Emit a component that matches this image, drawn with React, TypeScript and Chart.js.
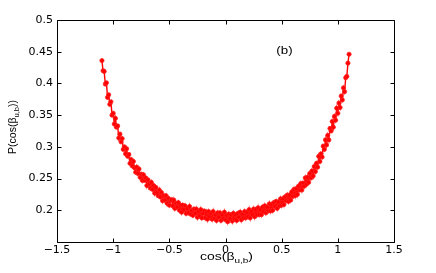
import React, { useEffect, useRef } from "react";
import { Chart, registerables } from "chart.js";

Chart.register(...registerables);

// cos(beta_u,b) sample positions
const xValues = [
  -1.1, -1.09, -1.08, -1.07, -1.06, -1.05, -1.04, -1.03, -1.02, -1.01,
  -1.0, -0.99, -0.98, -0.97, -0.96, -0.95, -0.94, -0.93, -0.92, -0.91,
  -0.9, -0.89, -0.88, -0.87, -0.86, -0.85, -0.84, -0.83, -0.82, -0.81,
  -0.8, -0.79, -0.78, -0.77, -0.76, -0.75, -0.74, -0.73, -0.72, -0.71,
  -0.7, -0.69, -0.68, -0.67, -0.66, -0.65, -0.64, -0.63, -0.62, -0.61,
  -0.6, -0.59, -0.58, -0.57, -0.56, -0.55, -0.54, -0.53, -0.52, -0.51,
  -0.5, -0.49, -0.48, -0.47, -0.46, -0.45, -0.44, -0.43, -0.42, -0.41,
  -0.4, -0.39, -0.38, -0.37, -0.36, -0.35, -0.34, -0.33, -0.32, -0.31,
  -0.3, -0.29, -0.28, -0.27, -0.26, -0.25, -0.24, -0.23, -0.22, -0.21,
  -0.2, -0.19, -0.18, -0.17, -0.16, -0.15, -0.14, -0.13, -0.12, -0.11,
  -0.1, -0.09, -0.08, -0.07, -0.06, -0.05, -0.04, -0.03, -0.02, -0.01,
  0.0, 0.01, 0.02, 0.03, 0.04, 0.05, 0.06, 0.07, 0.08, 0.09,
  0.1, 0.11, 0.12, 0.13, 0.14, 0.15, 0.16, 0.17, 0.18, 0.19,
  0.2, 0.21, 0.22, 0.23, 0.24, 0.25, 0.26, 0.27, 0.28, 0.29,
  0.3, 0.31, 0.32, 0.33, 0.34, 0.35, 0.36, 0.37, 0.38, 0.39,
  0.4, 0.41, 0.42, 0.43, 0.44, 0.45, 0.46, 0.47, 0.48, 0.49,
  0.5, 0.51, 0.52, 0.53, 0.54, 0.55, 0.56, 0.57, 0.58, 0.59,
  0.6, 0.61, 0.62, 0.63, 0.64, 0.65, 0.66, 0.67, 0.68, 0.69,
  0.7, 0.71, 0.72, 0.73, 0.74, 0.75, 0.76, 0.77, 0.78, 0.79,
  0.8, 0.81, 0.82, 0.83, 0.84, 0.85, 0.86, 0.87, 0.88, 0.89,
  0.9, 0.91, 0.92, 0.93, 0.94, 0.95, 0.96, 0.97, 0.98, 0.99,
  1.0, 1.01, 1.02, 1.03, 1.04, 1.05, 1.06, 1.07, 1.08, 1.09,
  1.1,
];

// P(cos(beta_u,b))
const pValues = [
  0.436, 0.42, 0.419, 0.399, 0.401, 0.378, 0.382, 0.367, 0.371, 0.35,
  0.353, 0.336, 0.345, 0.331, 0.333, 0.314, 0.32, 0.308, 0.313, 0.296,
  0.3, 0.289, 0.297, 0.285, 0.288, 0.274, 0.28, 0.27, 0.277, 0.267,
  0.26, 0.268, 0.258, 0.265, 0.252, 0.257, 0.247, 0.256, 0.247, 0.251,
  0.239, 0.248, 0.242, 0.235, 0.244, 0.233, 0.239, 0.227, 0.236, 0.228,
  0.223, 0.232, 0.221, 0.228, 0.215, 0.223, 0.216, 0.223, 0.211, 0.219,
  0.208, 0.215, 0.217, 0.207, 0.216, 0.203, 0.211, 0.205, 0.212, 0.2,
  0.208, 0.197, 0.208, 0.201, 0.207, 0.195, 0.203, 0.196, 0.206, 0.194,
  0.2, 0.192, 0.202, 0.195, 0.202, 0.189, 0.198, 0.191, 0.201, 0.188,
  0.195, 0.199, 0.188, 0.197, 0.186, 0.198, 0.19, 0.195, 0.186, 0.198,
  0.187, 0.193, 0.184, 0.196, 0.189, 0.196, 0.184, 0.193, 0.187, 0.197,
  0.185, 0.192, 0.182, 0.194, 0.187, 0.193, 0.183, 0.195, 0.186, 0.193,
  0.184, 0.195, 0.189, 0.197, 0.185, 0.194, 0.188, 0.198, 0.188, 0.197,
  0.19, 0.201, 0.188, 0.198, 0.193, 0.202, 0.19, 0.201, 0.193, 0.204,
  0.193, 0.201, 0.193, 0.205, 0.198, 0.207, 0.196, 0.205, 0.199, 0.21,
  0.199, 0.209, 0.2, 0.212, 0.206, 0.214, 0.203, 0.213, 0.207, 0.218,
  0.208, 0.218, 0.209, 0.221, 0.215, 0.224, 0.214, 0.224, 0.216, 0.229,
  0.222, 0.233, 0.223, 0.234, 0.225, 0.238, 0.232, 0.242, 0.232, 0.243,
  0.238, 0.251, 0.241, 0.252, 0.244, 0.258, 0.251, 0.262, 0.254, 0.269,
  0.261, 0.274, 0.268, 0.285, 0.277, 0.289, 0.284, 0.301, 0.296, 0.311,
  0.303, 0.318, 0.311, 0.329, 0.325, 0.34, 0.331, 0.348, 0.342, 0.361,
  0.353, 0.369, 0.362, 0.38, 0.374, 0.393, 0.387, 0.409, 0.411, 0.432,
  0.446,
];

const xTicks = [-1.5, -1, -0.5, 0, 0.5, 1, 1.5];
const yTicks = [0.15, 0.2, 0.25, 0.3, 0.35, 0.4, 0.45, 0.5];
const yTickLabels = ["", "0.2", "0.25", "0.3", "0.35", "0.4", "0.45", "0.5"];

const panelLabel = "(b)";
const panelLabelPos = { x: 0.525, y: 0.4505 };

const TICK_FONT = '"DejaVu Sans", "Liberation Sans", Arial, sans-serif';
const FONT = '"Liberation Sans", Arial, Helvetica, sans-serif';
const STRETCH = 1.33;

const fmt = (v: number) => (v < 0 ? "\u2212" + String(-v) : String(v));

const boxPlugin = {
  id: "matlabBox",
  afterDraw(chart: any) {
    const { ctx, chartArea: a, scales } = chart;
    const xs = scales.x;
    const ys = scales.y;
    const L = Math.round(a.left) + 0.5;
    const R = Math.round(a.right) + 0.5;
    const T = Math.round(a.top) + 0.5;
    const B = Math.round(a.bottom) + 0.5;
    ctx.save();
    ctx.strokeStyle = "#000";
    ctx.lineWidth = 1;
    ctx.beginPath();
    ctx.rect(L, T, R - L, B - T);
    const tl = 4;
    xTicks.forEach((v) => {
      const px = Math.round(xs.getPixelForValue(v)) + 0.5;
      ctx.moveTo(px, B);
      ctx.lineTo(px, B - tl);
      ctx.moveTo(px, T);
      ctx.lineTo(px, T + tl);
    });
    yTicks.forEach((v) => {
      const py = Math.round(ys.getPixelForValue(v)) + 0.5;
      ctx.moveTo(L, py);
      ctx.lineTo(L + tl, py);
      ctx.moveTo(R, py);
      ctx.lineTo(R - tl, py);
    });
    ctx.stroke();
    ctx.fillStyle = "#000";

    // panel label (b)
    ctx.save();
    ctx.translate(xs.getPixelForValue(panelLabelPos.x), ys.getPixelForValue(panelLabelPos.y));
    ctx.scale(STRETCH, 1);
    ctx.font = `10px ${FONT}`;
    ctx.textAlign = "center";
    ctx.textBaseline = "middle";
    ctx.fillText(panelLabel, 0, 0);
    ctx.restore();

    const main1 = "cos(\u03b2";
    const sub = "u,b";

    // x title: cos(beta_{u,b})
    ctx.save();
    ctx.font = `10.5px ${FONT}`;
    const w1 = ctx.measureText(main1).width;
    const w3 = ctx.measureText(")").width;
    ctx.font = `7.5px ${FONT}`;
    const w2 = ctx.measureText(sub).width;
    const total = (w1 + w2 + w3) * STRETCH;
    ctx.translate((a.left + a.right) / 2 - total / 2 + 1, 260);
    ctx.scale(STRETCH, 1);
    ctx.textAlign = "left";
    ctx.textBaseline = "alphabetic";
    ctx.font = `10.5px ${FONT}`;
    ctx.fillText(main1, 0, 0);
    ctx.font = `7.5px ${FONT}`;
    ctx.fillText(sub, w1, 3);
    ctx.font = `10.5px ${FONT}`;
    ctx.fillText(")", w1 + w2, 0);
    ctx.restore();

    // y title: P(cos(beta_{u,b}))
    ctx.save();
    ctx.font = `10.5px ${FONT}`;
    const yw1 = ctx.measureText("P(" + main1).width;
    const yw3 = ctx.measureText("))").width;
    ctx.font = `7.5px ${FONT}`;
    const yw2 = ctx.measureText(sub).width;
    const ytotal = yw1 + yw2 + yw3;
    ctx.translate(16, 127);
    ctx.rotate(-Math.PI / 2);
    ctx.textAlign = "left";
    ctx.textBaseline = "alphabetic";
    const x0 = -ytotal / 2;
    ctx.font = `10.5px ${FONT}`;
    ctx.fillText("P(" + main1, x0, 0);
    ctx.font = `7.5px ${FONT}`;
    ctx.fillText(sub, x0 + yw1, 3);
    ctx.font = `10.5px ${FONT}`;
    ctx.fillText("))", x0 + yw1 + yw2, 0);
    ctx.restore();

    ctx.restore();
  },
};

export default function App() {
  const ref = useRef<HTMLCanvasElement | null>(null);

  useEffect(() => {
    if (!ref.current) return;
    const data = xValues.map((x, i) => ({ x, y: pValues[i] }));
    const chart = new Chart(ref.current, {
      type: "line",
      data: {
        datasets: [
          {
            data,
            borderColor: "#ff0000",
            backgroundColor: "#ff0000",
            borderWidth: 1.4,
            pointRadius: 2.1,
            pointBorderWidth: 0.8,
            pointBackgroundColor: "#ff0000",
            pointBorderColor: "#ff2020",
            tension: 0,
            fill: false,
          },
        ],
      },
      options: {
        responsive: false,
        animation: false,
        layout: { padding: { top: 20, right: 42, left: 0, bottom: 0 } },
        plugins: {
          legend: { display: false },
          tooltip: { enabled: false },
          title: { display: false },
        },
        scales: {
          x: {
            type: "linear",
            min: -1.5,
            max: 1.5,
            afterBuildTicks: (s: any) => {
              s.ticks = xTicks.map((v) => ({ value: v }));
            },
            afterFit: (s: any) => {
              s.height = 31;
            },
            grid: { display: false, drawTicks: false },
            border: { display: false },
            ticks: {
              padding: 2,
              color: "#000",
              font: { family: TICK_FONT, size: 11 },
              maxRotation: 0,
              autoSkip: false,
              callback: (v: any) => fmt(Number(v)),
            },
          },
          y: {
            type: "linear",
            min: 0.15,
            max: 0.5,
            afterBuildTicks: (s: any) => {
              s.ticks = yTicks.map((v) => ({ value: v }));
            },
            afterFit: (s: any) => {
              s.width = 57;
            },
            grid: { display: false, drawTicks: false },
            border: { display: false },
            ticks: {
              padding: 4,
              color: "#000",
              font: { family: TICK_FONT, size: 11 },
              autoSkip: false,
              callback: (v: any, i: number) => yTickLabels[i] ?? String(v),
            },
          },
        },
      },
      plugins: [boxPlugin],
    } as any);
    return () => chart.destroy();
  }, []);

  return (
    <div style={{ position: "fixed", left: 0, top: 0, width: 436, height: 273, background: "#fff" }}>
      <canvas ref={ref} width={436} height={273} style={{ width: 436, height: 273 }} />
    </div>
  );
}
